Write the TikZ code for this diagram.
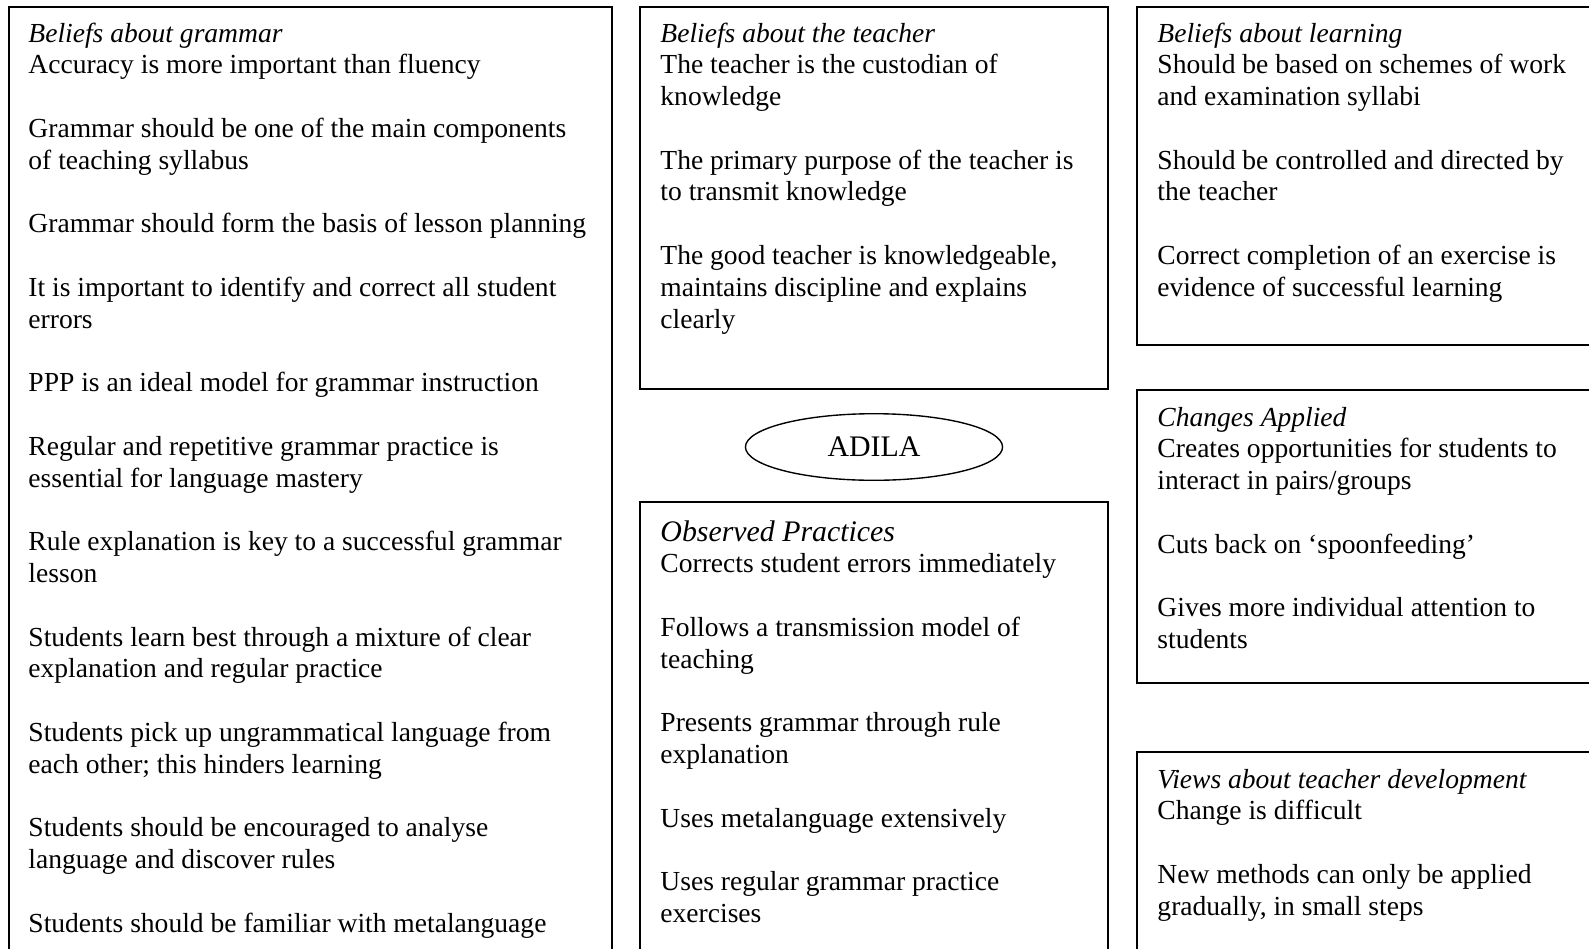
\documentclass[tikz,border=0pt]{standalone}
\usepackage{fontspec}
\setmainfont{Liberation Serif}
\usetikzlibrary{shapes.geometric}

\tikzset{
  frame/.style={draw=black, line width=0.6pt},
  body/.style={
    anchor=base west,
    inner sep=0pt,
    text width=#1,
    font=\fontsize{12}{13.85}\selectfont,
    execute at begin node={\raggedright\spaceskip=0pt\xspaceskip=0pt
      \setlength{\parindent}{0pt}\setlength{\parskip}{13.85pt}},
  },
  body/.default=270pt,
}

\begin{document}
\begin{tikzpicture}[x=0.4356pt, y=-0.4356pt]

    \useasboundingbox (0,0) rectangle (1589,948);
    \clip (0,0) rectangle (1589,948);

    % frames
    \draw[frame] (9,7) rectangle (612,980);
    \draw[frame] (640,7) rectangle (1108,389);
    \draw[frame] (640,502) rectangle (1108,980);
    \draw[frame] (1137,7) rectangle (1620,345);
    \draw[frame] (1137,390) rectangle (1620,683);
    \draw[frame] (1137,752) rectangle (1620,980);

    % left column
    \node[body] (grammar) at (28,42) {\textit{Beliefs about grammar}\\
    Accuracy is more important than fluency\par
    Grammar should be one of the main components\\ of teaching syllabus\par
    Grammar should form the basis of lesson planning\par
    It is important to identify and correct all student\\ errors\par
    PPP is an ideal model for grammar instruction\par
    Regular and repetitive grammar practice is\\ essential for language mastery\par
    Rule explanation is key to a successful grammar\\ lesson\par
    Students learn best through a mixture of clear\\ explanation and regular practice\par
    Students pick up ungrammatical language from\\ each other; this hinders learning\par
    Students should be encouraged to analyse\\ language and discover rules\par
    Students should be familiar with metalanguage};

    % middle column
    \node[body=220pt] (teacher) at (660,42) {\textit{Beliefs about the teacher}\\
    The teacher is the custodian of\\ knowledge\par
    The primary purpose of the teacher is\\ to transmit knowledge\par
    The good teacher is knowledgeable,\\ maintains discipline and explains\\ clearly};

    \node[draw, ellipse, line width=0.6pt, minimum width=112pt, minimum height=29pt,
      inner sep=0pt, font=\fontsize{13}{15}\selectfont] (adila) at (874,447) {ADILA};

    \node[body=220pt] (observed) at (660,541) {{\fontsize{13}{13.85}\selectfont\textit{Observed Practices}}\\
    Corrects student errors immediately\par
    Follows a transmission model of\\ teaching\par
    Presents grammar through rule\\ explanation\par
    Uses metalanguage extensively\par
    Uses regular grammar practice\\ exercises};

    % right column
    \node[body=220pt] (learning) at (1157,42) {\textit{Beliefs about learning}\\
    Should be based on schemes of work\\ and examination syllabi\par
    Should be controlled and directed by\\ the teacher\par
    Correct completion of an exercise is\\ evidence of successful learning};

    \node[body=220pt] (changes) at (1157,426) {\textit{Changes Applied}\\
    Creates opportunities for students to\\ interact in pairs/groups\par
    Cuts back on `spoonfeeding'\par
    Gives more individual attention to\\ students};

    \node[body=220pt] (views) at (1157,788) {\textit{Views about teacher development}\\
    Change is difficult\par
    New methods can only be applied\\ gradually, in small steps};

\end{tikzpicture}
\end{document}
